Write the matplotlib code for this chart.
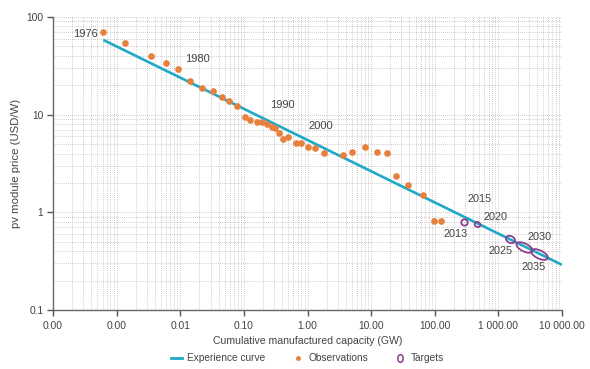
import numpy as np
import matplotlib
matplotlib.use('Agg')
import matplotlib.pyplot as plt
from matplotlib.path import Path
from matplotlib.transforms import Affine2D
from matplotlib.ticker import FixedLocator, FuncFormatter, LogLocator, NullFormatter
from matplotlib.lines import Line2D

# ---------------- data ----------------
obs_capacity = [0.000618, 0.00137, 0.00348, 0.00592, 0.00923, 0.01425, 0.0220, 0.0324,
                0.0446, 0.0592, 0.0773, 0.1026, 0.125, 0.160, 0.191, 0.229, 0.275,
                0.310, 0.361, 0.409, 0.501, 0.655, 0.792, 1.03, 1.32, 1.84, 3.59,
                5.08, 8.05, 12.3, 18.0, 24.7, 38.6, 66.4, 97.9, 125]
obs_price = [69.7, 54.2, 40.2, 33.6, 29.2, 22.1, 18.9, 17.5, 15.2, 13.8, 12.3, 9.36,
             8.83, 8.42, 8.47, 8.03, 7.43, 7.26, 6.54, 5.60, 5.87, 5.10, 5.10, 4.64,
             4.53, 4.03, 3.87, 4.18, 4.64, 4.18, 4.08, 2.36, 1.91, 1.51, 0.817, 0.817]

curve_capacity = [0.00062, 10000]
curve_price = [58.2, 0.29]

target_capacity = [293, 469, 1496, 2483, 4274]
target_price = [0.80, 0.76, 0.53, 0.44, 0.372]

obs_labels = ['1976', '1980', '1990', '2000']
obs_label_anchor = [0, 4, 15, 24]
target_labels = ['2013', '2015', '2020', '2025', '2030', '2035']
target_label_anchor = [0, 1, 1, 2, 3, 4]

x_ticks = [1e-4, 1e-3, 0.01, 0.1, 1, 10, 100, 1000, 10000]
y_ticks = [0.1, 1, 10, 100]

# ---------------- styles ----------------
FONT = ['Liberation Sans', 'DejaVu Sans']
C_LINE = '#1fa9c6'
C_OBS = '#e8803d'
C_TGT = '#8d3f8f'
C_TXT = '#444444'

obs_label_offsets = [(-5, -2), (19, 10), (16, 19), (6, 22)]   # pixels
obs_label_ha = ['right', 'center', 'center', 'center']
target_label_offsets = [(-9, -12), (2, 25), (18, 7), (-9, -12), (16, 10), (-5, -13)]

target_ratio = [0.95, 0.85, 0.7, 0.45, 0.45]
target_ms = [4.8, 4.2, 6.8, 12.0, 12.4]


def ellipse_marker(ratio, angle=-26):
    circ = Path.unit_circle()
    tr = Affine2D().scale(1.0, ratio).rotate_deg(angle)
    return tr.transform_path(circ)


plt.rcParams['font.family'] = FONT

fig = plt.figure(figsize=(5.9, 3.69), dpi=100)
ax = fig.add_axes([53 / 590, 1 - 310 / 369, 509 / 590, 293 / 369])
ax.set_xscale('log')
ax.set_yscale('log')
ax.set_xlim(1e-4, 1e4)
ax.set_ylim(0.1, 100)

# grid
ax.xaxis.set_major_locator(FixedLocator(x_ticks))
ax.yaxis.set_major_locator(FixedLocator(y_ticks))
ax.xaxis.set_minor_locator(LogLocator(base=10, subs=np.arange(2, 10), numticks=100))
ax.yaxis.set_minor_locator(LogLocator(base=10, subs=np.arange(2, 10), numticks=100))
ax.xaxis.set_minor_formatter(NullFormatter())
ax.yaxis.set_minor_formatter(NullFormatter())
ax.grid(True, which='both', color='#a0a0a0', lw=0.5, ls=(0, (1, 2)))
ax.set_axisbelow(True)

# experience curve
ax.plot(curve_capacity, curve_price, color=C_LINE, lw=1.9, solid_capstyle='butt', zorder=3)

# observations
ax.plot(obs_capacity, obs_price, ls='none', marker='o', ms=4.8, mfc=C_OBS, mec='none', zorder=4)

# targets
for cx, cy, r, ms in zip(target_capacity, target_price, target_ratio, target_ms):
    ax.plot([cx], [cy], ls='none', marker=ellipse_marker(r), ms=ms, mfc='none',
            mec=C_TGT, mew=1.3, zorder=5)

# labels
for lab, idx, off, ha in zip(obs_labels, obs_label_anchor, obs_label_offsets, obs_label_ha):
    ax.annotate(lab, (obs_capacity[idx], obs_price[idx]), xytext=off,
                textcoords='offset pixels', ha=ha, va='center', fontsize=8.0,
                color=C_TXT, zorder=6)
for lab, idx, off in zip(target_labels, target_label_anchor, target_label_offsets):
    ax.annotate(lab, (target_capacity[idx], target_price[idx]), xytext=off,
                textcoords='offset pixels', ha='center', va='center', fontsize=7.8,
                color=C_TXT, zorder=6)

# axes styling
for s in ['top', 'right']:
    ax.spines[s].set_visible(False)
for s in ['left', 'bottom']:
    ax.spines[s].set_color('#666666')
    ax.spines[s].set_linewidth(1.0)
ax.tick_params(which='major', direction='out', length=4, width=1, color='#555555',
               labelcolor=C_TXT, labelsize=7.4)
ax.tick_params(which='minor', length=0)
ax.xaxis.set_major_formatter(FuncFormatter(lambda v, p: f"{v:,.2f}".replace(',', ' ')))
ax.yaxis.set_major_formatter(FuncFormatter(lambda v, p: f"{v:g}"))
ax.tick_params(axis='x', pad=4)
ax.tick_params(axis='y', pad=3)

ax.set_xlabel('Cumulative manufactured capacity (GW)', fontsize=7.6, color=C_TXT)
ax.set_ylabel('pv module price (USD/W)', fontsize=8.2, color=C_TXT)
ax.xaxis.set_label_coords(0.5, -(336 - 310) / 293)
ax.yaxis.set_label_coords(-(53 - 21) / 509, 0.5)

# legend
h_line = Line2D([], [], color=C_LINE, lw=2)
h_obs = Line2D([], [], ls='none', marker='o', ms=3.5, mfc=C_OBS, mec='none')
h_tgt = Line2D([], [], ls='none', marker=ellipse_marker(0.7, 90), ms=5.5, mfc='none',
               mec=C_TGT, mew=1.1)
leg = ax.legend([h_line, h_obs, h_tgt], ['Experience curve', 'Observations', 'Targets'],
                loc='center', bbox_to_anchor=(0.5, -0.164), ncol=3, frameon=False,
                fontsize=7.3, handlelength=1.1, handletextpad=0.5, columnspacing=2.6)
for t in leg.get_texts():
    t.set_color(C_TXT)

fig.savefig('out.png', dpi=100)
